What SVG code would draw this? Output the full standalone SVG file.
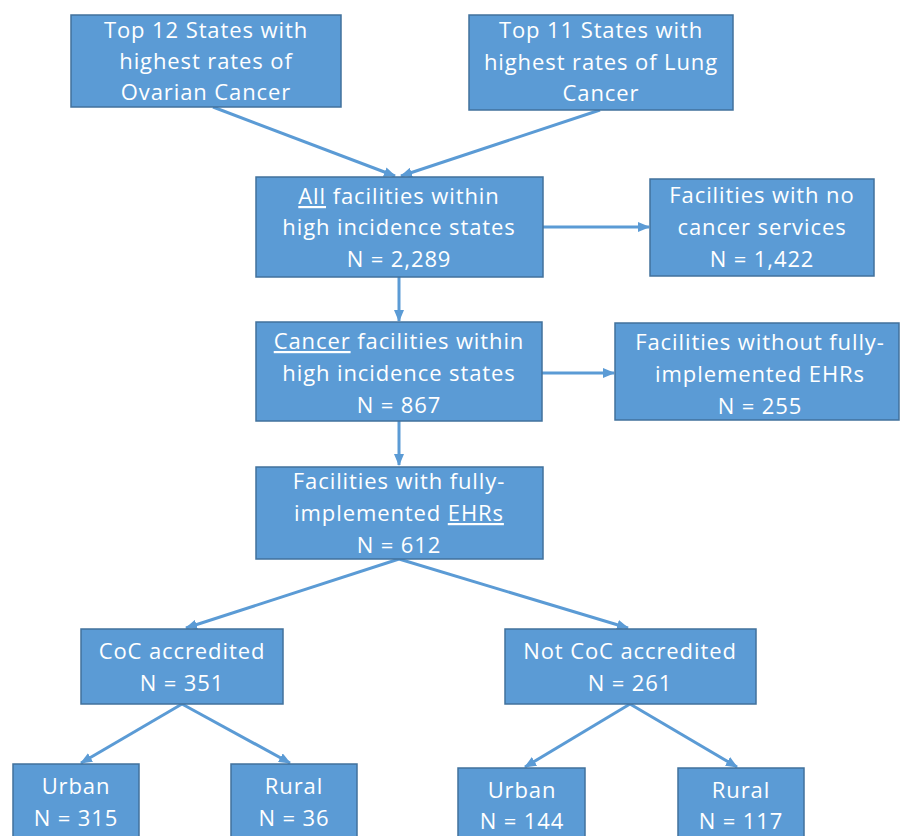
<svg xmlns="http://www.w3.org/2000/svg" width="901" height="836" viewBox="0 0 901 836">
<style>
.box{fill:#5B9BD5;stroke:#41719C;stroke-width:1.5}
.t{font-family:"Open Sans","Liberation Sans",sans-serif;font-size:22px;letter-spacing:0.9px;fill:#FFFFFF;text-anchor:middle}
.c{stroke:#5B9BD5;stroke-width:3;fill:none;marker-end:url(#ah)}
</style>
<defs>
<marker id="ah" markerUnits="userSpaceOnUse" markerWidth="12" markerHeight="10" viewBox="0 0 12 10" refX="11" refY="5" orient="auto">
<path d="M0,0 L12,5 L0,10 Z" fill="#5B9BD5"/>
</marker>
</defs>
<rect width="901" height="836" fill="#FFFFFF"/>
<g id="connectors">
<line class="c" x1="213" y1="107" x2="395" y2="176"/>
<line class="c" x1="600" y1="110" x2="401" y2="176"/>
<line class="c" x1="399" y1="277" x2="399" y2="321"/>
<line class="c" x1="543" y1="227" x2="649" y2="227"/>
<line class="c" x1="542" y1="373" x2="614" y2="373"/>
<line class="c" x1="399" y1="421" x2="399" y2="465"/>
<line class="c" x1="399" y1="559" x2="186" y2="628"/>
<line class="c" x1="399" y1="559" x2="628" y2="628"/>
<line class="c" x1="182" y1="704" x2="81" y2="763"/>
<line class="c" x1="182" y1="704" x2="290" y2="763"/>
<line class="c" x1="630" y1="704" x2="525" y2="767"/>
<line class="c" x1="630" y1="704" x2="737" y2="767"/>
</g>
<g id="n1">
<rect class="box" x="71" y="15" width="270" height="92"/>
<text class="t" x="206" y="38">Top 12 States with</text>
<text class="t" x="206" y="69">highest rates of</text>
<text class="t" x="206" y="100">Ovarian Cancer</text>
</g>
<g id="n2">
<rect class="box" x="469" y="15" width="264" height="95"/>
<text class="t" x="601" y="38">Top 11 States with</text>
<text class="t" x="601" y="70">highest rates of Lung</text>
<text class="t" x="601" y="101">Cancer</text>
</g>
<g id="n3">
<rect class="box" x="256" y="177" width="287" height="100"/>
<text class="t" x="399" y="204"><tspan text-decoration="underline">All</tspan> facilities within</text>
<text class="t" x="399" y="235">high incidence states</text>
<text class="t" x="399" y="267">N = 2,289</text>
</g>
<g id="n4">
<rect class="box" x="650" y="179" width="224" height="97"/>
<text class="t" x="762" y="203">Facilities with no</text>
<text class="t" x="762" y="235">cancer services</text>
<text class="t" x="762" y="267">N = 1,422</text>
</g>
<g id="n5">
<rect class="box" x="256" y="322" width="286" height="99"/>
<text class="t" x="399" y="349"><tspan text-decoration="underline">Cancer</tspan> facilities within</text>
<text class="t" x="399" y="381">high incidence states</text>
<text class="t" x="399" y="413">N = 867</text>
</g>
<g id="n6">
<rect class="box" x="615" y="323" width="284" height="97"/>
<text class="t" x="760" y="350">Facilities without fully-</text>
<text class="t" x="760" y="382">implemented EHRs</text>
<text class="t" x="760" y="414">N = 255</text>
</g>
<g id="n7">
<rect class="box" x="256" y="467" width="287" height="92"/>
<text class="t" x="399" y="489">Facilities with fully-</text>
<text class="t" x="399" y="521">implemented <tspan text-decoration="underline">EHRs</tspan></text>
<text class="t" x="399" y="553">N = 612</text>
</g>
<g id="n8">
<rect class="box" x="81" y="629" width="202" height="75"/>
<text class="t" x="182" y="659">CoC accredited</text>
<text class="t" x="182" y="691">N = 351</text>
</g>
<g id="n9">
<rect class="box" x="505" y="629" width="251" height="75"/>
<text class="t" x="630" y="659">Not CoC accredited</text>
<text class="t" x="630" y="691">N = 261</text>
</g>
<g id="n10">
<rect class="box" x="13" y="764" width="126" height="90"/>
<text class="t" x="76" y="794">Urban</text>
<text class="t" x="76" y="826">N = 315</text>
</g>
<g id="n11">
<rect class="box" x="231" y="764" width="126" height="90"/>
<text class="t" x="294" y="794">Rural</text>
<text class="t" x="294" y="826">N = 36</text>
</g>
<g id="n12">
<rect class="box" x="458" y="768" width="127" height="90"/>
<text class="t" x="522" y="798">Urban</text>
<text class="t" x="522" y="829">N = 144</text>
</g>
<g id="n13">
<rect class="box" x="678" y="768" width="126" height="90"/>
<text class="t" x="741" y="798">Rural</text>
<text class="t" x="741" y="829">N = 117</text>
</g>
</svg>
